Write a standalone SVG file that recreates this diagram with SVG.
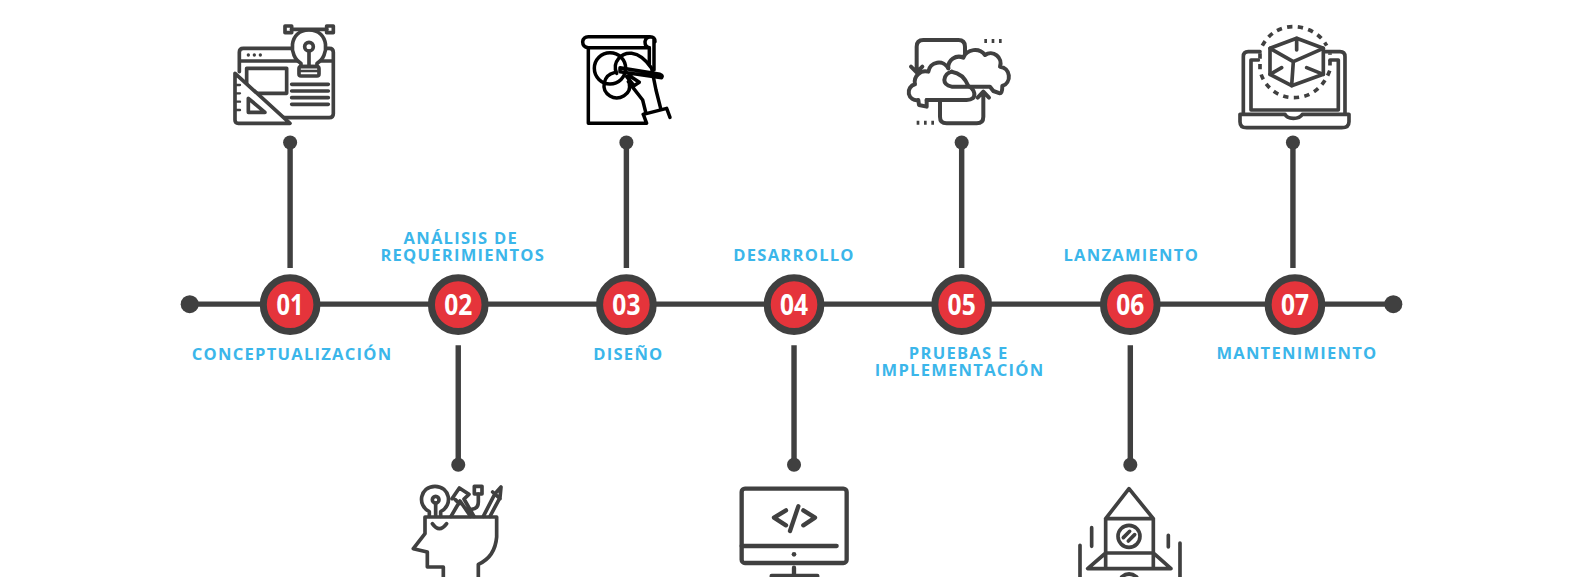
<svg xmlns="http://www.w3.org/2000/svg" width="1574" height="577" viewBox="0 0 1574 577">
<style>
.l{stroke:#404040;stroke-width:5.400;fill:none}
.ic{stroke:#404040;stroke-width:11;fill:none;stroke-linejoin:round;stroke-linecap:round}
.bk{stroke:#000;stroke-width:10.500;fill:none;stroke-linejoin:round;stroke-linecap:round}
.w{fill:#fff}
.d{fill:#404040;stroke:none}
.c{fill:#e5343b;stroke:#404040;stroke-width:7}
.n{font:700 28px "Open Sans",sans-serif;fill:#fff;text-anchor:middle}
.t{font:700 16.500px "Open Sans",sans-serif;fill:#3bb6ea;text-anchor:middle;letter-spacing:1.250px}
</style>
<rect width="1574" height="577" fill="#fff"/>
<g id="connectors" transform="scale(1.00383)">
<path class="l" d="M189 303H1388M289 142V267M624 142V267M958 142V267M1288 142V267M456.500 344V463M791 344V463M1126 344V463"/>
<g class="d"><circle cx="189" cy="303" r="9"/><circle cx="1388" cy="303" r="9"/><circle cx="289" cy="142" r="7"/><circle cx="624" cy="142" r="7"/><circle cx="958" cy="142" r="7"/><circle cx="1288" cy="142" r="7"/><circle cx="456.500" cy="463" r="7"/><circle cx="791" cy="463" r="7"/><circle cx="1126" cy="463" r="7"/></g>
</g>
<g id="node-01"><g transform="scale(1.00383)"><circle class="c" cx="289" cy="303.500" r="26.700"/><text class="n" x="289" y="314" textLength="27" lengthAdjust="spacingAndGlyphs">01</text><text class="t" x="291" y="359">CONCEPTUALIZACIÓN</text></g>
<g class="ic" transform="translate(220 15) scale(.3333)">
<path d="M58 170V112Q58 100 70 100H215M305 100H328Q340 100 340 112V296Q340 308 328 308H190M58 138H232M305 138H340"/>
<rect x="80" y="160" width="120" height="75"/>
<path d="M215 208H325M215 228H325M215 248H325M215 268H325"/>
<path class="w" d="M45 175L210 325H55Q45 325 45 315Z"/>
<path d="M85 250V292H135Z"/>
<path d="M45 210H60M45 235H60M45 260H60M45 285H60" stroke-width="7"/>
<path class="w" d="M243 145C205 125 205 45 267 45C329 45 329 125 291 145V155H243Z"/>
<rect class="w" x="237" y="155" width="60" height="28" rx="6"/>
<path d="M237 168H297" stroke-width="7"/>
<circle cx="267" cy="95" r="13"/><path d="M267 108V150"/>
<rect x="195" y="33" width="20" height="20"/><rect x="320" y="33" width="20" height="20"/><path d="M215 43H320"/>
<circle class="d" cx="85" cy="120" r="5"/><circle class="d" cx="103" cy="120" r="5"/><circle class="d" cx="121" cy="120" r="5"/>
</g></g>
<g id="node-02"><g transform="scale(1.00383)"><circle class="c" cx="456.500" cy="303.500" r="26.700"/><text class="n" x="456.500" y="314" textLength="28" lengthAdjust="spacingAndGlyphs">02</text><text class="t" x="459" y="243">ANÁLISIS DE</text><text class="t" x="461" y="260">REQUERIMIENTOS</text></g>
<g class="ic" transform="translate(400 477) scale(.3333)">
<path d="M75 120H290V180Q285 240 235 262V300M75 120V170L40 215L82 225V270H130V300"/>
<path d="M97 140Q118 170 140 140"/>
<path d="M88 118V104C50 85 60 28 105 28C150 28 160 85 122 104V118"/>
<circle cx="107" cy="68" r="10"/><path d="M107 78V115"/>
<path d="M153 118L180 72L212 118M156 65L178 33L207 52L192 66L222 118M166 68L178 80"/>
<rect x="223" y="28" width="23" height="23"/><path d="M235 51V75Q235 95 215 97"/>
<path d="M250 118L285 50L303 30L300 62L270 118M278 45L300 65"/>
</g></g>
<g id="node-03"><g transform="scale(1.00383)"><circle class="c" cx="624" cy="303.500" r="26.700"/><text class="n" x="624" y="314" textLength="28" lengthAdjust="spacingAndGlyphs">03</text><text class="t" x="626" y="359">DISEÑO</text></g>
<g class="bk" transform="translate(560 25) scale(.3333)">
<path d="M85 68V295H260L250 268M282 45V135M268 68V118"/>
<path d="M268 68H85Q68 66 68 50Q70 35 85 35H270Q285 35 285 50M255 50Q258 36 270 36M255 50Q255 66 268 68"/>
<circle cx="150" cy="130" r="47"/>
<path d="M163 143C130 150 120 195 150 213C178 230 215 205 208 178"/>
<path d="M170 145C155 110 185 82 215 85C240 88 258 105 275 130L288 195L302 250"/>
<path d="M180 128L300 148Q310 152 305 158L180 140ZM205 150L238 172L222 182L200 155M205 170L248 225L258 265"/>
<path d="M250 268L320 250L330 277"/>
</g></g>
<g id="node-04"><g transform="scale(1.00383)"><circle class="c" cx="791" cy="303.500" r="26.700"/><text class="n" x="791" y="314" textLength="28" lengthAdjust="spacingAndGlyphs">04</text><text class="t" x="791" y="260">DESARROLLO</text></g>
<g class="ic" transform="translate(730 477) scale(.3333)" style="stroke-width:13">
<rect x="35" y="35" width="315" height="223" rx="10"/>
<path d="M35 207H320"/>
<path d="M168 100L132 122L168 145M220 100L255 122L220 145M205 88L180 162"/>
<circle class="d" cx="192" cy="232" r="7"/>
<path d="M192 272V296M125 297H262"/>
</g></g>
<g id="node-05"><g transform="scale(1.00383)"><circle class="c" cx="958" cy="303.500" r="26.700"/><text class="n" x="958" y="314" textLength="28" lengthAdjust="spacingAndGlyphs">05</text><text class="t" x="955" y="358">PRUEBAS E</text><text class="t" x="956" y="375">IMPLEMENTACIÓN</text></g>
<g class="ic" transform="translate(895 25) scale(.3333)" style="stroke-width:12">
<path d="M65 138V65Q65 45 85 45H190Q210 45 210 65V92M48 125L65 142L82 125"/>
<path d="M135 230V275Q135 295 155 295H245Q265 295 265 275V205M248 218L265 200L282 218"/>
<path class="w" d="M160 130A32 32 0 0 1 205 98A38 38 0 0 1 270 90A30 30 0 0 1 315 125A30 30 0 0 1 322 183Q322 205 315 205L295 198L285 185H170Q148 180 148 165Q150 145 170 140"/>
<path d="M95 225H215Q240 225 238 205Q235 190 220 183Q205 145 170 140"/>
<path d="M95 225V245L72 240L70 225A22 22 0 0 1 60 178A32 32 0 0 1 100 140A32 32 0 0 1 160 130"/>
<path d="M268 42H276V54H268ZM290 42H298V54H290ZM312 42H320V54H312ZM65 287H73V299H65ZM87 287H95V299H87ZM109 287H117V299H109Z" class="d"/>
</g></g>
<g id="node-06"><g transform="scale(1.00383)"><circle class="c" cx="1126" cy="303.500" r="26.700"/><text class="n" x="1126" y="314" textLength="28" lengthAdjust="spacingAndGlyphs">06</text><text class="t" x="1127" y="260">LANZAMIENTO</text></g>
<g class="ic" transform="translate(1065 477) scale(.3333)">
<path d="M122 275V125H265V275M122 125L192 35L265 125M122 228H265M122 228L68 275H318L265 228"/>
<circle cx="192" cy="178" r="33"/><path d="M175 182L194 163M190 192L209 173"/>
<path d="M80 152V208M310 175V210M45 205V300M345 198V300"/>
<path d="M170 300Q192 282 215 300"/>
</g></g>
<g id="node-07"><g transform="scale(1.00383)"><circle class="c" cx="1290" cy="303.500" r="26.700"/><text class="n" x="1290" y="314" textLength="28" lengthAdjust="spacingAndGlyphs">07</text><text class="t" x="1292" y="358">MANTENIMIENTO</text></g>
<g class="ic" transform="translate(1225 15) scale(.3333)">
<path d="M105 110H70Q55 110 55 125V295M300 110H345Q360 110 360 125V295"/>
<path d="M100 135H78V285H340V135H315"/>
<path d="M45 298H180Q185 310 205 310Q225 310 232 298H372V320Q372 338 350 338H65Q45 338 45 320Z"/>
<path class="w" d="M135 100L215 70L295 100V178L200 212L135 178Z"/>
<path d="M135 100L205 140L295 100M215 70V105M205 140L200 212M135 178L170 158M295 178L245 158"/>
<path d="M112 92C135 50 170 35 205 35C245 35 285 55 305 92M105 115V165C112 205 150 248 205 248C255 248 295 220 315 165V115" stroke-dasharray="16 16" stroke-linecap="butt" stroke-width="11"/>
</g></g>
</svg>
